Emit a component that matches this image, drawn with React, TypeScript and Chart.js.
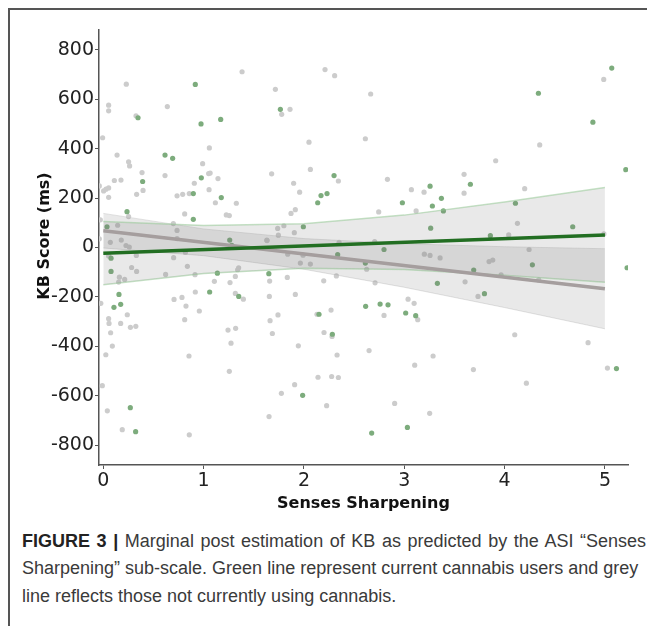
import React, { useEffect, useRef } from "react";
import { Chart, registerables } from "chart.js";

Chart.register(...registerables);

// ---- data ----
const greyX = [1.383, 0.229, 1.715, 1.778, 1.861, 0.053, 0.053, 0.638, 0.326, -0.007, 1.057, 0.137, 0.252, 0.262, 0.99, 0.386, 0.615, 1.05, 1.065, 1.678, 0.11, 0.176, 1.143, 0.907, -0.04, 0.003, 0.027, 0.053, 0.053, 0.396, 0.332, 1.054, 0.735, 0.791, 0.857, 1.117, 1.326, 0.252, 0.811, 1.226, 1.256, -0.03, 0.143, 0.698, 0.735, 1.738, 1.745, -0.04, 0.07, 0.179, 0.226, 0.259, 0.735, 1.63, 1.8, 1.904, 0.053, 0.329, 0.282, 0.332, 0.16, 0.153, 0.213, 0.621, 0.701, 0.818, 0.838, 0.914, 1.107, 1.263, 1.316, 1.339, 1.349, 1.658, 1.655, -0.025, 0.053, 0.057, 0.239, 0.173, 0.27, 0.324, 0.073, 0.09, 0.025, -0.01, 0.04, 0.189, 0.857, 0.854, 0.705, 0.784, 0.824, 0.811, 0.917, 0.957, 1.316, 1.396, 1.243, 1.319, 1.273, 1.256, 1.662, 1.685, 1.741, 1.652, 1.775, 1.632, 1.838, 1.834, 1.964, 1.991, 2.064, 1.914, 1.944, 1.907, 2.13, 2.197, 2.2, 2.14, 2.05, 2.064, 1.897, 1.957, 1.871, 1.914, 2.21, 2.306, 2.665, 2.612, 2.343, 2.832, 2.745, 3.071, 3.197, 3.118, 4.35, 3.911, 3.596, 3.596, 4.2, 4.128, 4.041, 4.99, 2.35, 2.705, 2.625, 2.323, 2.709, 3.2, 3.257, 3.357, 3.606, 3.845, 3.882, 3.965, 3.735, 4.244, 4.34, 2.798, 3.038, 3.098, 3.134, 2.649, 2.33, 3.287, 4.101, 4.832, 3.104, 3.689, 2.276, 2.343, 4.217, 5.025, 2.27, 2.28, 2.226, 2.904, 3.253, 4.988];
const greyY = [711, 661, 640, 539, 559, 576, 553, 570, 533, 444, 403, 374, 347, 330, 339, 303, 291, 299, 301, 298, 271, 273, 279, 260, 249, 229, 236, 241, 203, 231, 215, 234, 209, 215, 218, 181, 179, 125, 136, 132, 129, 112, 90, 97, 69, 77, 50, 35, 21, 30, 8, 2, 36, 30, 88, 60, -34, -32, -81, -97, -120, -140, -129, -109, -41, -20, -76, -110, -137, -142, -117, -90, -82, -136, -198, -226, -288, -307, -272, -307, -323, -319, -345, -399, -434, -559, -661, -737, -758, -439, -210, -202, -237, -292, -180, -257, -186, -209, -334, -327, -387, -501, -296, -348, -273, -684, -590, 28, -27, -121, -63, -31, -67, -190, -398, -555, -270, -135, -344, -525, 426, 316, 260, 224, 138, 153, 720, 695, 621, 440, 269, 276, 144, 234, 224, 148, 415, 351, 296, 220, 238, 98, 51, 55, 21, 24, -88, -115, -143, -27, -32, -42, -139, -57, -51, -111, -198, -8, -131, -275, -209, -226, -292, -417, -435, -439, -353, -385, -476, -494, -522, -526, -549, -488, -253, -360, -640, -631, -671, 680];

const greenX = [0.917, 1.765, 0.346, 0.974, 1.17, 0.615, 0.691, 0.392, 0.977, 0.897, 1.176, 0.236, 0.897, 0.037, 1.26, 1.28, 0.077, 0.077, 0.156, 0.173, 0.106, 1.137, 1.06, 1.35, 1.65, 0.269, 0.322, 1.994, 1.987, 2.137, 2.17, 2.23, 2.15, 2.3, 2.981, 3.257, 3.37, 3.28, 3.39, 3.263, 2.798, 4.88, 5.208, 3.659, 4.108, 4.679, 3.858, 2.336, 2.612, 3.33, 3.692, 3.799, 4.277, 2.615, 2.759, 2.838, 3.014, 3.114, 2.283, 2.675, 3.031, 5.115, 5.221, 5.068, 4.337];
const greenY = [660, 559, 525, 500, 518, 374, 361, 267, 282, 218, 202, 145, 114, 84, 30, 9, -43, -97, -190, -230, -242, -104, -180, -198, -106, -648, -745, 84, -598, 181, 210, 218, -270, 291, 181, 248, 199, 168, 148, 78, -8, 507, 315, 256, 179, 84, 48, -29, -63, -145, -91, -187, -70, -238, -229, -232, -265, -276, -351, -751, -728, -490, -82, 726, 624];

const lineX = [0, 5];
const greenLine = [-23, 51];
const greyLine = [68, -167];

const bandX = [0, 1, 2, 3, 4, 5];
const greenUpper = [105, 89, 96, 131, 184, 243];
const greenLower = [-151, -105, -84, -89, -112, -141];
const greyUpper = [138, 75, 36, 15, 3, -5];
const greyLower = [-2, -33, -88, -161, -243, -329];

const xTicks = [0, 1, 2, 3, 4, 5];
const yTicks = [-800, -600, -400, -200, 0, 200, 400, 600, 800];

const xTitle = "Senses Sharpening";
const yTitle = "KB Score (ms)";

const pts = (xs: number[], ys: number[]) => xs.map((x, i) => ({ x, y: ys[i] }));

const TICK_FONT = { family: "'DejaVu Sans', Verdana, sans-serif", size: 19 };

export default function App() {
  const ref = useRef<HTMLCanvasElement | null>(null);

  useEffect(() => {
    if (!ref.current) return;
    const titles = {
      id: "axisTitles",
      afterDraw(chart: any) {
        const { ctx, chartArea } = chart;
        ctx.save();
        ctx.fillStyle = "#111";
        ctx.font = "bold 16px 'DejaVu Sans', Verdana, sans-serif";
        ctx.textAlign = "center";
        ctx.textBaseline = "middle";
        ctx.fillText(xTitle, (chartArea.left + chartArea.right) / 2, 482);
        ctx.translate(35, 214);
        ctx.rotate(-Math.PI / 2);
        ctx.fillText(yTitle, 0, 0);
        ctx.restore();
      },
    };

    const zeroPad = (s: any) => {
      s.paddingTop = 0;
      s.paddingBottom = 0;
      s.paddingLeft = 0;
      s.paddingRight = 0;
    };

    const chart = new Chart(ref.current, {
      type: "scatter",
      data: {
        datasets: [
          {
            type: "line",
            data: pts(lineX, greenLine),
            borderColor: "rgb(34,110,34)",
            borderWidth: 3.5,
            pointRadius: 0,
            order: 0,
          } as any,
          {
            type: "line",
            data: pts(lineX, greyLine),
            borderColor: "rgb(165,158,158)",
            borderWidth: 3.5,
            pointRadius: 0,
            order: 0.5,
          } as any,
          {
            type: "line",
            data: pts(bandX, greenUpper),
            borderColor: "rgba(150,200,150,0.55)",
            borderWidth: 1.5,
            backgroundColor: "rgba(120,120,120,0.16)",
            fill: "+1",
            pointRadius: 0,
            order: 1,
          } as any,
          {
            type: "line",
            data: pts(bandX, greenLower),
            borderColor: "rgba(150,200,150,0.55)",
            borderWidth: 1.5,
            fill: false,
            pointRadius: 0,
            order: 1,
          } as any,
          {
            type: "line",
            data: pts(bandX, greyUpper),
            borderColor: "rgba(200,200,200,0.5)",
            borderWidth: 1,
            backgroundColor: "rgba(120,120,120,0.16)",
            fill: "+1",
            pointRadius: 0,
            order: 1.5,
          } as any,
          {
            type: "line",
            data: pts(bandX, greyLower),
            borderColor: "rgba(200,200,200,0.5)",
            borderWidth: 1,
            fill: false,
            pointRadius: 0,
            order: 1.5,
          } as any,
          {
            data: pts(greenX, greenY),
            backgroundColor: "rgb(125,172,125)",
            borderWidth: 0,
            pointRadius: 2.6,
            order: 2,
          },
          {
            data: pts(greyX, greyY),
            backgroundColor: "rgb(204,204,204)",
            borderWidth: 0,
            pointRadius: 2.6,
            order: 3,
          },
        ],
      },
      options: {
        responsive: false,
        animation: false,
        devicePixelRatio: 1,
        layout: { padding: { left: 0, right: 22, top: 8, bottom: 0 } },
        plugins: { legend: { display: false }, tooltip: { enabled: false } },
        scales: {
          x: {
            type: "linear",
            min: -0.043,
            max: 5.23,
            afterBuildTicks: (s: any) => {
              s.ticks = xTicks.map((v) => ({ value: v }));
            },
            afterFit: (s: any) => {
              s.height = 57;
              zeroPad(s);
            },
            grid: { drawOnChartArea: false, drawTicks: true, tickLength: 4, color: "#555" },
            border: { display: true, color: "#555", width: 1.5 },
            ticks: { font: TICK_FONT, color: "#222", padding: 1, maxRotation: 0 },
          },
          y: {
            type: "linear",
            min: -880,
            max: 880,
            afterBuildTicks: (s: any) => {
              s.ticks = yTicks.map((v) => ({ value: v }));
            },
            afterFit: (s: any) => {
              s.width = 89;
              zeroPad(s);
            },
            grid: { drawOnChartArea: false, drawTicks: true, tickLength: 4, color: "#555" },
            border: { display: true, color: "#555", width: 1.5 },
            ticks: { font: TICK_FONT, color: "#222", padding: 1 },
          },
        },
      },
      plugins: [titles],
    } as any);
    return () => chart.destroy();
  }, []);

  const capStyle: React.CSSProperties = {
    position: "absolute",
    left: 12,
    whiteSpace: "nowrap",
    fontFamily: "'Liberation Sans Narrow', 'Arial Narrow', 'Liberation Sans', sans-serif",
    fontSize: 18,
    color: "#3a3a3a",
    lineHeight: "20px",
  };

  return (
    <div
      style={{
        position: "relative",
        width: 647,
        height: 618,
        borderTop: "2px solid #555",
        borderLeft: "2px solid #555",
        boxSizing: "border-box",
        background: "#fff",
      }}
    >
      <canvas
        ref={ref}
        width={640}
        height={500}
        style={{ position: "absolute", left: 0, top: 12, width: 640, height: 500 }}
      />
      <div style={{ ...capStyle, top: 521, wordSpacing: 1.6 }}>
        <b style={{ color: "#222" }}>FIGURE 3 |</b> Marginal post estimation of KB as predicted by the ASI “Senses
      </div>
      <div style={{ ...capStyle, top: 548 }}>
        Sharpening” sub-scale. Green line represent current cannabis users and grey
      </div>
      <div style={{ ...capStyle, top: 576 }}>line reflects those not currently using cannabis.</div>
    </div>
  );
}
